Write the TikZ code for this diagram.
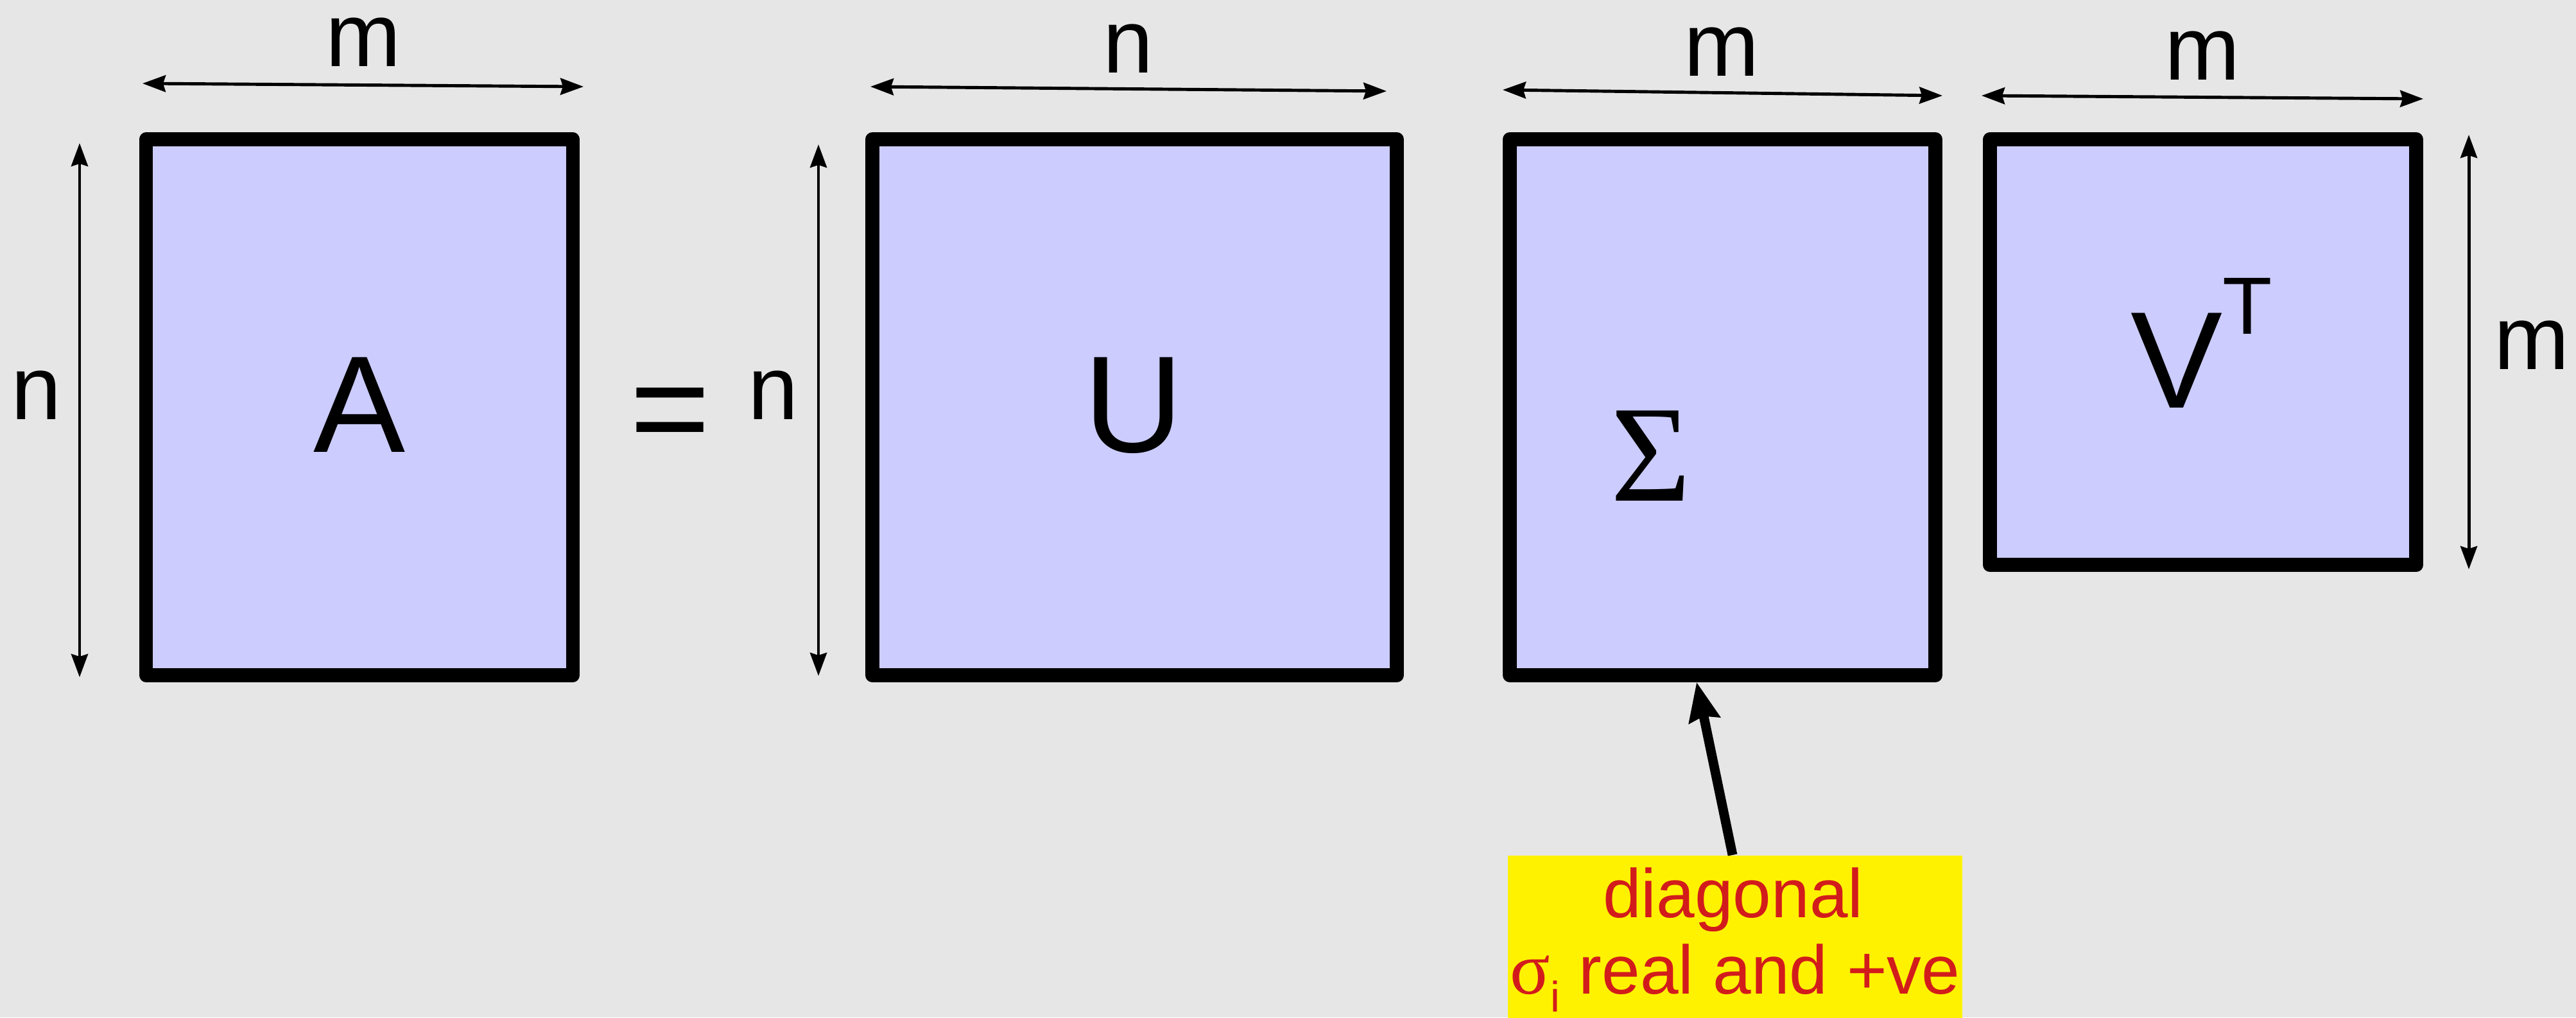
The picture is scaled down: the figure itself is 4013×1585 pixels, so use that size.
\documentclass[tikz,border=0pt]{standalone}
\usepackage{fontspec}
\setmainfont{Liberation Sans}
\newfontfamily\serifgr{Liberation Serif}
\usetikzlibrary{arrows.meta,calc}
\definecolor{bgcol}{HTML}{E6E6E6}
\definecolor{matfill}{HTML}{CCCCFF}
\definecolor{noteyellow}{HTML}{FFF200}
\definecolor{notered}{HTML}{D21C1C}
\begin{document}
\begin{tikzpicture}[x=0.01cm,y=-0.01cm,
  mat/.style={draw=black,fill=matfill,line width=6.2pt,line join=round,rectangle,inner sep=0pt},
  dimarrow/.style={line width=1.4pt,{Stealth[length=0.36cm,width=0.26cm,inset=0.04cm]}-{Stealth[length=0.36cm,width=0.26cm,inset=0.04cm]}},
  bigarrow/.style={line width=4.2pt,-{Stealth[length=0.6cm,width=0.48cm,inset=0.06cm]}},
  biglab/.style={font=\fontsize{61}{61}\selectfont,anchor=base,inner sep=0pt},
  dimlab/.style={font=\fontsize{40}{40}\selectfont,anchor=base,inner sep=0pt},
  notetext/.style={font=\fontsize{30.5}{34}\selectfont,text=notered,anchor=base,inner sep=0pt}]
\useasboundingbox (0,0) rectangle (4013,1585);
\clip (0,0) rectangle (4013,1585);
\fill[bgcol] (0,0) rectangle (4013,1585);

% matrices
\node[mat,minimum width=6.645cm,minimum height=8.34cm] (A) at (560,634.5) {};
\node[mat,minimum width=8.17cm,minimum height=8.34cm] (U) at (1767.5,634.5) {};
\node[mat,minimum width=6.63cm,minimum height=8.34cm] (S) at (2683.5,634.5) {};
\node[mat,minimum width=6.64cm,minimum height=6.625cm] (V) at (3432,548.75) {};

% matrix labels
\node[biglab] (Alab) at (560,704) {A};
\node[biglab] (eq) at (1044,709) {=};
\node[biglab] (Ulab) at (1766,704) {U};
\node[biglab,font=\fontsize{61}{61}\serifgr] (Slab) at (2572,780) {Σ};
\node[biglab] (Vlab) at (3430,635) {V\raisebox{32.5pt}{\fontsize{36}{36}\selectfont T}};

% dimension arrows
\coordinate (aT1) at (222,130);  \coordinate (aT2) at (909,135);
\coordinate (aL1) at (124,223);  \coordinate (aL2) at (124,1055);
\coordinate (uT1) at (1356,135); \coordinate (uT2) at (2160,142);
\coordinate (uL1) at (1275,225); \coordinate (uL2) at (1275,1053);
\coordinate (sT1) at (2341,140); \coordinate (sT2) at (3026,149);
\coordinate (vT1) at (3087,149); \coordinate (vT2) at (3775,154);
\coordinate (vR1) at (3846,210); \coordinate (vR2) at (3846,887);
\draw[dimarrow] (aT1) -- (aT2);
\draw[dimarrow] (aL1) -- (aL2);
\draw[dimarrow] (uT1) -- (uT2);
\draw[dimarrow] (uL1) -- (uL2);
\draw[dimarrow] (sT1) -- (sT2);
\draw[dimarrow] (vT1) -- (vT2);
\draw[dimarrow] (vR1) -- (vR2);

% dimension labels
\node[dimlab] (mA) at (566,104) {m};
\node[dimlab] (nA) at (57,653) {n};
\node[dimlab] (nU) at (1205,653) {n};
\node[dimlab] (nUt) at (1758,114) {n};
\node[dimlab] (mS) at (2682,119) {m};
\node[dimlab] (mV) at (3431,125) {m};
\node[dimlab] (mR) at (3944,575) {m};

% note
\node[fill=noteyellow,minimum width=7.08cm,minimum height=3cm,anchor=north,inner sep=0pt] (note) at (2703,1332) {};
\node[notetext] (l1) at (2700,1429) {diagonal};
\node[notetext] (l2) at (2703,1548) {{\fontsize{33}{34}\serifgr σ}\raisebox{-8pt}{\fontsize{19}{19}\selectfont i} real and +ve};
\draw[bigarrow] ([xshift=-0.04cm]note.north) -- ([xshift=-0.405cm]S.south);
\end{tikzpicture}
\end{document}
